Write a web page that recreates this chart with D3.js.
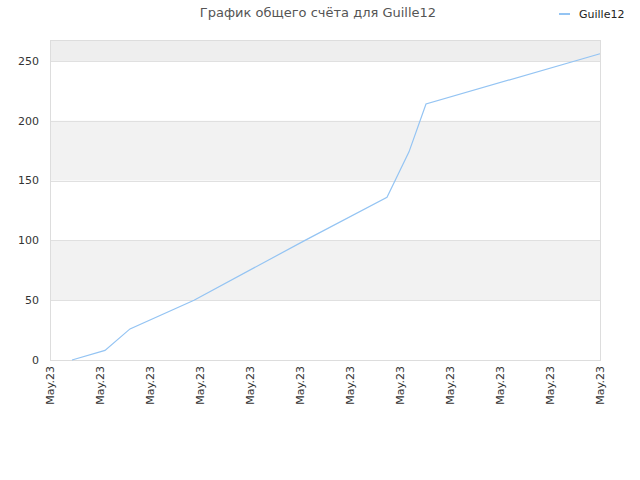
<!DOCTYPE html>
<html>
<head>
<meta charset="utf-8">
<script src="https://cdn.jsdelivr.net/npm/d3@7"></script>
<style>
  body { margin: 0; background: #fff; }
  text { font-family: "DejaVu Sans", sans-serif; }
</style>
</head>
<body>
<script>
// данные графика
const title = "График общего счёта для Guille12";
const seriesName = "Guille12";
const xTickLabels = ["May.23", "May.23", "May.23", "May.23", "May.23", "May.23",
  "May.23", "May.23", "May.23", "May.23", "May.23", "May.23"];
const xValues = [0.44, 1.1, 1.6, 2.88, 5.1, 6.74, 7.18, 7.52, 11];
const scores = [0, 8, 26, 50, 100, 136, 174, 214, 256];
const yTicks = [0, 50, 100, 150, 200, 250];

const width = 640, height = 480;
const margin = { top: 40, right: 40, bottom: 120, left: 50 };

const svg = d3.select("body").append("svg")
  .attr("width", width)
  .attr("height", height);

const x = d3.scaleLinear().domain([0, xTickLabels.length - 1])
  .range([margin.left, width - margin.right]);
const y = d3.scaleLinear().domain([0, 267.5])
  .range([height - margin.bottom, margin.top]);

// полосы фона
const bands = [[50, 100, "#f2f2f2"], [150, 200, "#f2f2f2"], [250, 267.5, "#eeeeee"]];
svg.append('g').selectAll('rect')
  .data(bands)
  .enter().append('rect')
  .attr('x', margin.left)
  .attr('width', width - margin.left - margin.right)
  .attr('y', function (d) { return y(d[1]); })
  .attr('height', function (d) { return y(d[0]) - y(d[1]); })
  .attr('fill', function (d) { return d[2]; });

// сетка
svg.append('g').selectAll('line')
  .data(yTicks)
  .enter().append('line')
  .attr('x1', margin.left).attr('x2', width - margin.right)
  .attr('y1', function (d) { return Math.round(y(d)) + 0.5; })
  .attr('y2', function (d) { return Math.round(y(d)) + 0.5; })
  .attr('stroke', '#e0e0e0');

// рамка
svg.append('rect')
  .attr('x', margin.left + 0.5).attr('y', margin.top + 0.5)
  .attr('width', width - margin.left - margin.right)
  .attr('height', height - margin.top - margin.bottom)
  .attr('fill', 'none')
  .attr('stroke', '#dddddd');

// ось Y
svg.append('g').selectAll('text')
  .data(yTicks)
  .enter().append('text')
  .attr('x', margin.left - 11)
  .attr('y', function (d) { return y(d); })
  .attr('dy', '0.35em')
  .attr('text-anchor', 'end')
  .attr('font-size', 11)
  .attr('fill', '#333')
  .text(function (d) { return d; });

// ось X
svg.append('g').selectAll('text')
  .data(xTickLabels)
  .enter().append('text')
  .attr('transform', function (d, i) {
    return 'translate(' + (x(i) + 4) + ',' + (height - margin.bottom + 6) + ') rotate(-90)';
  })
  .attr('text-anchor', 'end')
  .attr('font-size', 11)
  .attr('fill', '#333')
  .text(function (d) { return d; });

// линия
const points = xValues.map(function (v, i) { return [v, scores[i]]; });
const line = d3.line()
  .x(function (d) { return x(d[0]); })
  .y(function (d) { return y(d[1]); });

svg.append('path')
  .datum(points)
  .attr('d', line)
  .attr('fill', 'none')
  .attr('stroke', '#94c4f3')
  .attr('stroke-width', 1.2);

// заголовок
svg.append('text')
  .attr('x', 318).attr('y', 17)
  .attr('text-anchor', 'middle')
  .attr('font-size', 13)
  .attr('fill', '#555')
  .text(title);

// легенда
svg.append('line')
  .attr('x1', 559).attr('x2', 570)
  .attr('y1', 14).attr('y2', 14)
  .attr('stroke', '#94c4f3')
  .attr('stroke-width', 2);
svg.append('text')
  .attr('x', 579).attr('y', 14)
  .attr('dy', '0.35em')
  .attr('font-size', 11)
  .attr('fill', '#222')
  .text(seriesName);
</script>
</body>
</html>
